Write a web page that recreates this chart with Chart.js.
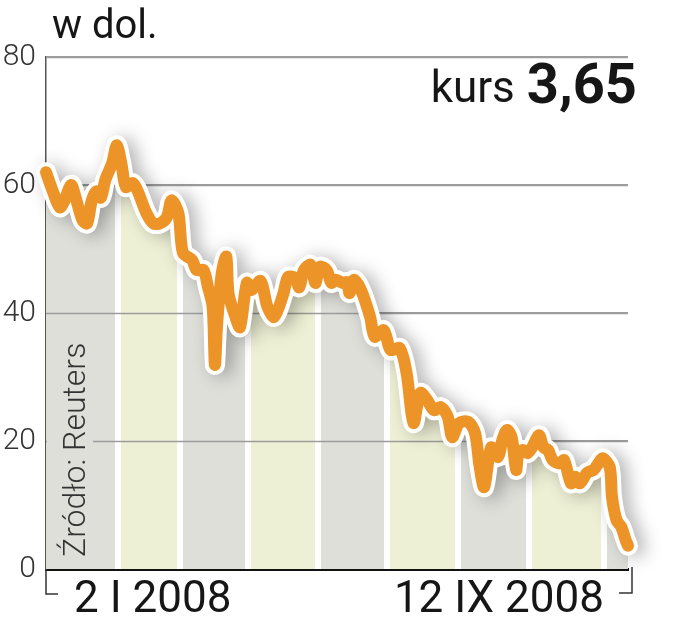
<!DOCTYPE html>
<html>
<head>
<meta charset="utf-8">
<script src="https://cdn.jsdelivr.net/npm/chart.js@4.4.1/dist/chart.umd.min.js"></script>
<style>
  html, body { margin: 0; padding: 0; background: #fff; }
</style>
</head>
<body>
<canvas id="chart" width="679" height="640"></canvas>
<script>
// days counted from 2 I 2008, price in USD
const days = [0, 3, 6, 8, 11, 13, 16, 18, 20, 22, 24, 26, 29, 31, 33, 35, 38, 40, 44, 47,
  50, 53, 55, 58, 60, 64, 66, 69, 71, 73, 74, 75, 77, 79, 80, 83, 85, 88, 90, 94,
  97, 100, 104, 106, 109, 111, 113, 116, 118, 120, 123, 125, 127, 130, 132, 133, 135, 138, 142, 144,
  148, 151, 155, 158, 161, 164, 167, 170, 173, 176, 178, 181, 185, 188, 190, 192, 195, 198, 200, 202,
  204, 206, 207, 209, 211, 213, 216, 218, 220, 222, 225, 227, 230, 232, 234, 237, 240, 242, 244, 247,
  248, 250, 252, 254, 255];
const prices = [62.0, 59.0, 56.5, 57.5, 60.0, 58.0, 54.5, 54.0, 57.5, 59.0, 58.0, 60.8, 63.4, 66.2, 63.4, 59.7, 60.3, 59.2, 55.6, 54.0,
  54.0, 55.0, 57.6, 55.6, 49.4, 48.3, 46.7, 46.7, 44.0, 41.0, 31.9, 38.4, 46.2, 48.8, 43.0, 39.4, 37.8, 44.7, 43.6, 45.0,
  41.0, 39.4, 43.0, 45.6, 45.5, 44.0, 46.7, 47.5, 44.7, 47.2, 46.7, 44.7, 45.2, 44.7, 44.8, 43.1, 45.2, 43.6, 39.4, 36.3,
  37.3, 34.2, 34.5, 30.6, 22.8, 27.5, 26.4, 24.8, 25.3, 23.8, 20.6, 22.8, 23.0, 21.2, 16.0, 12.8, 19.0, 17.5, 20.2, 21.7,
  20.6, 15.5, 18.1, 18.6, 18.1, 19.0, 20.9, 19.0, 18.6, 17.0, 16.5, 17.0, 13.4, 14.4, 13.4, 15.0, 15.5, 16.5, 17.3, 15.9,
  11.2, 7.6, 6.6, 4.5, 3.65];
// month boundaries (days from start)
const monthEdges = [31.5, 58.5, 88.5, 119, 149.5, 180.5, 211.5, 244.5];
const yTicks = [0, 20, 40, 60, 80];
const dateLabels = ['2 I 2008', '12 IX 2008'];
const unitLabel = 'w dol.';
const rateLabel = 'kurs';
const rateValue = '3,65';
const sourceLabel = 'Źródło: Reuters';

const orange = '#ec9428';
const bandColors = ['#dedfd9', '#eef0d5'];
const gridColor = '#9c9c9c';
const FONT = 'Roboto, "DejaVu Sans", sans-serif';

const points = days.map((d, i) => ({ x: d, y: prices[i] }));

function bandFill(context) {
  const chart = context.chart;
  const area = chart.chartArea;
  const xs = chart.scales.x;
  if (!area || !xs) return 'rgba(0,0,0,0)';
  const w = area.right - area.left;
  const frac = px => Math.min(1, Math.max(0, (px - area.left) / w));
  const edges = [xs.min, ...monthEdges, xs.max].map(d => xs.getPixelForValue(d));
  const g = chart.ctx.createLinearGradient(area.left, 0, area.right, 0);
  const last = edges.length - 2;
  for (let i = 0; i <= last; i++) {
    const c = bandColors[i % 2];
    const a = i === 0 ? edges[i] : edges[i] + 3;
    const b = i === last ? edges[i + 1] : edges[i + 1] - 3;
    g.addColorStop(frac(a), c);
    g.addColorStop(frac(b), c);
    if (i < last) {
      g.addColorStop(frac(b), '#ffffff');
      g.addColorStop(frac(edges[i + 1] + 3), '#ffffff');
    }
  }
  return g;
}

const decor = {
  id: 'decor',
  beforeDatasetDraw(chart, args) {
    if (args.index !== 1) return;
    const ctx = chart.ctx;
    ctx.save();
    ctx.shadowColor = 'rgba(0,0,0,0.3)';
    ctx.shadowBlur = 18;
    ctx.shadowOffsetX = 7;
    ctx.shadowOffsetY = 2;
  },
  afterDatasetDraw(chart, args) {
    const ctx = chart.ctx;
    if (args.index === 1) ctx.restore();
    if (args.index === 2) {
      // grid lines again, on top of the bands
      const { left, right } = chart.chartArea;
      const ys = chart.scales.y;
      ctx.save();
      ctx.strokeStyle = gridColor;
      ctx.lineWidth = 1.5;
      yTicks.filter(v => v > 0).forEach(v => {
        const y = Math.round(ys.getPixelForValue(v)) + 0.5;
        ctx.beginPath();
        ctx.moveTo(left, y);
        ctx.lineTo(right, y);
        ctx.stroke();
      });
      ctx.restore();
    }
  },
  afterDraw(chart) {
    const ctx = chart.ctx;
    const { left, right, bottom } = chart.chartArea;
    const ys = chart.scales.y;
    ctx.save();
    ctx.fillStyle = '#161616';
    ctx.textBaseline = 'alphabetic';

    ctx.font = '40px ' + FONT;
    ctx.textAlign = 'left';
    ctx.fillText(unitLabel, 52, 38);

    ctx.font = 'bold 56px ' + FONT;
    ctx.textAlign = 'right';
    ctx.fillText(rateValue, 637, 103);
    const vw = ctx.measureText(rateValue).width;
    ctx.font = '44px ' + FONT;
    ctx.fillText(rateLabel, 637 - vw - 12, 102);

    ctx.font = '44px ' + FONT;
    ctx.textAlign = 'left';
    ctx.fillText(dateLabels[0], left + 28, 612);
    ctx.textAlign = 'right';
    ctx.fillText(dateLabels[1], right - 24, 612);

    // brackets under the axis
    ctx.strokeStyle = '#333';
    ctx.lineWidth = 1.5;
    ctx.beginPath();
    ctx.moveTo(left, bottom);
    ctx.lineTo(left, 594);
    ctx.lineTo(left + 12, 594);
    ctx.moveTo(right + 4, bottom - 2);
    ctx.lineTo(right + 4, 593);
    ctx.lineTo(right - 9, 593);
    ctx.stroke();

    // source, vertical
    ctx.fillStyle = bandColors[0];
    ctx.fillRect(left + 1, ys.getPixelForValue(35), 46, ys.getPixelForValue(0.5) - ys.getPixelForValue(35));
    ctx.translate(85, 557);
    ctx.rotate(-Math.PI / 2);
    ctx.fillStyle = '#333';
    ctx.font = '300 32px ' + FONT;
    ctx.textAlign = 'left';
    ctx.fillText(sourceLabel, 0, 0);
    ctx.restore();
  }
};

new Chart(document.getElementById('chart'), {
  type: 'line',
  data: {
    datasets: [
      {
        data: points,
        borderColor: orange,
        borderWidth: 12,
        borderCapStyle: 'round',
        borderJoinStyle: 'round',
        pointRadius: 0,
        tension: 0.3,
        clip: false
      },
      {
        data: points,
        borderColor: '#ffffff',
        borderWidth: 20,
        borderCapStyle: 'round',
        borderJoinStyle: 'round',
        pointRadius: 0,
        tension: 0.3,
        clip: false
      },
      {
        data: points,
        borderWidth: 0,
        pointRadius: 0,
        tension: 0.3,
        fill: 'origin',
        backgroundColor: bandFill
      }
    ]
  },
  options: {
    responsive: false,
    animation: false,
    layout: { padding: { top: 57, right: 51, bottom: 71, left: 0 } },
    plugins: { legend: { display: false }, tooltip: { enabled: false } },
    scales: {
      x: {
        type: 'linear',
        min: 0,
        max: 255,
        ticks: { display: false },
        grid: { drawOnChartArea: false, drawTicks: false },
        border: { display: true, color: '#111', width: 3 }
      },
      y: {
        min: 0,
        max: 80,
        afterFit: s => { s.width = 46; },
        afterBuildTicks: s => { s.ticks = yTicks.map(v => ({ value: v })); },
        ticks: {
          padding: 10,
          color: '#333',
          font: { family: FONT, size: 30, weight: '300' }
        },
        grid: {
          drawTicks: false,
          color: c => (c.tick && c.tick.value === 0 ? 'rgba(0,0,0,0)' : gridColor),
          lineWidth: 1.5
        },
        border: { display: true, color: '#555', width: 1.5 }
      }
    }
  },
  plugins: [decor]
});
</script>
</body>
</html>
